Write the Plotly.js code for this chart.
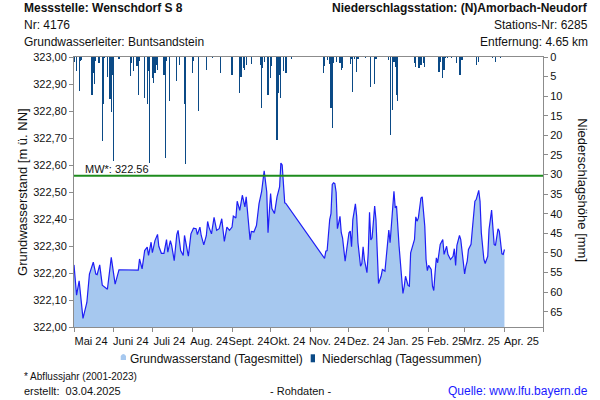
<!DOCTYPE html>
<html>
<head>
<meta charset="utf-8">
<script src="https://cdn.plot.ly/plotly-3.0.1.min.js"></script>
<style>html,body{margin:0;padding:0;background:#fff}#chart{width:600px;height:400px}</style>
</head>
<body>
<div id="chart"></div>
<script>
const gwDates = ["2024-05-01","2024-05-03","2024-05-05","2024-05-08","2024-05-11","2024-05-13","2024-05-16","2024-05-18","2024-05-19","2024-05-21","2024-05-23","2024-05-25","2024-05-27","2024-05-30","2024-06-02","2024-06-05","2024-06-20","2024-06-21","2024-06-23","2024-06-25","2024-06-27","2024-06-28","2024-06-30","2024-07-01","2024-07-03","2024-07-05","2024-07-06","2024-07-08","2024-07-10","2024-07-12","2024-07-13","2024-07-15","2024-07-16","2024-07-18","2024-07-20","2024-07-21","2024-07-23","2024-07-25","2024-07-26","2024-07-29","2024-07-31","2024-08-02","2024-08-04","2024-08-05","2024-08-07","2024-08-08","2024-08-10","2024-08-12","2024-08-13","2024-08-14","2024-08-16","2024-08-18","2024-08-20","2024-08-22","2024-08-24","2024-08-26","2024-08-28","2024-08-30","2024-09-01","2024-09-02","2024-09-04","2024-09-05","2024-09-07","2024-09-09","2024-09-11","2024-09-12","2024-09-15","2024-09-16","2024-09-18","2024-09-20","2024-09-22","2024-09-24","2024-09-26","2024-09-28","2024-09-29","2024-09-30","2024-10-01","2024-10-02","2024-10-04","2024-10-06","2024-10-08","2024-10-09","2024-10-10","2024-10-12","2024-10-13","2024-11-12","2024-11-13","2024-11-14","2024-11-16","2024-11-17","2024-11-18","2024-11-19","2024-11-20","2024-11-21","2024-11-22","2024-11-23","2024-11-24","2024-11-25","2024-11-26","2024-11-28","2024-11-29","2024-12-01","2024-12-02","2024-12-03","2024-12-04","2024-12-06","2024-12-07","2024-12-08","2024-12-10","2024-12-11","2024-12-12","2024-12-13","2024-12-15","2024-12-16","2024-12-17","2024-12-18","2024-12-19","2024-12-21","2024-12-22","2024-12-23","2024-12-24","2024-12-26","2024-12-27","2024-12-29","2024-12-30","2025-01-01","2025-01-02","2025-01-04","2025-01-05","2025-01-06","2025-01-07","2025-01-09","2025-01-11","2025-01-12","2025-01-13","2025-01-14","2025-01-16","2025-01-17","2025-01-18","2025-01-20","2025-01-21","2025-01-22","2025-01-23","2025-01-24","2025-01-26","2025-01-27","2025-01-29","2025-01-30","2025-01-31","2025-02-01","2025-02-03","2025-02-04","2025-02-05","2025-02-06","2025-02-07","2025-02-08","2025-02-09","2025-02-10","2025-02-12","2025-02-13","2025-02-15","2025-02-16","2025-02-18","2025-02-20","2025-02-21","2025-02-22","2025-02-23","2025-02-25","2025-02-26","2025-02-27","2025-03-01","2025-03-02","2025-03-03","2025-03-04","2025-03-06","2025-03-07","2025-03-09","2025-03-10","2025-03-12","2025-03-13","2025-03-14","2025-03-16","2025-03-17","2025-03-19","2025-03-20","2025-03-22","2025-03-23","2025-03-24","2025-03-25","2025-03-27","2025-03-28","2025-03-29","2025-03-30","2025-03-31","2025-04-01"];
const gwLevels = [322.230,322.118,322.171,322.032,322.091,322.196,322.240,322.196,322.194,322.230,322.155,322.149,322.140,322.258,322.159,322.212,322.211,322.252,322.215,322.283,322.296,322.265,322.314,322.275,322.320,322.343,322.299,322.273,322.273,322.324,322.277,322.320,322.302,322.246,322.342,322.358,322.283,322.265,322.339,322.262,322.345,322.366,322.364,322.342,322.370,322.339,322.304,322.339,322.391,322.370,322.345,322.406,322.358,322.364,322.401,322.317,322.370,322.358,322.370,322.411,322.404,322.466,322.432,322.488,322.445,322.482,322.323,322.354,322.352,322.376,322.457,322.501,322.578,322.501,322.349,322.426,322.494,322.439,322.420,322.482,322.519,322.607,322.600,322.460,322.457,322.254,322.281,322.283,322.398,322.420,322.528,322.534,322.531,322.499,322.364,322.386,322.410,322.349,322.330,322.244,322.275,322.349,322.355,322.297,322.398,322.456,322.410,322.312,322.225,322.235,322.297,322.250,322.201,322.275,322.425,322.322,322.330,322.448,322.398,322.262,322.161,322.188,322.213,322.207,322.250,322.359,322.312,322.466,322.503,322.441,322.448,322.299,322.176,322.124,322.151,322.188,322.154,322.151,322.275,322.309,322.324,322.408,322.392,322.404,322.478,322.482,322.373,322.250,322.209,322.228,322.213,322.151,322.135,322.201,322.256,322.238,322.269,322.306,322.324,322.269,322.299,322.269,322.250,322.262,322.290,322.228,322.302,322.339,322.324,322.287,322.197,322.225,322.244,322.287,322.306,322.361,322.466,322.472,322.506,322.466,322.349,322.250,322.235,322.262,322.361,322.433,322.355,322.306,322.302,322.364,322.355,322.302,322.271,322.269,322.287];

const rainDates = ["2024-05-01","2024-05-03","2024-05-05","2024-05-06","2024-05-07","2024-05-15","2024-05-16","2024-05-17","2024-05-18","2024-05-20","2024-05-21","2024-05-23","2024-05-24","2024-05-25","2024-05-27","2024-05-29","2024-05-30","2024-05-31","2024-06-01","2024-06-05","2024-06-14","2024-06-15","2024-06-16","2024-06-19","2024-06-20","2024-06-21","2024-06-25","2024-06-27","2024-06-28","2024-06-29","2024-07-01","2024-07-02","2024-07-03","2024-07-04","2024-07-05","2024-07-10","2024-07-11","2024-07-12","2024-07-14","2024-07-20","2024-07-22","2024-07-26","2024-07-27","2024-08-01","2024-08-02","2024-08-06","2024-08-12","2024-08-17","2024-08-23","2024-09-01","2024-09-07","2024-09-08","2024-09-10","2024-09-11","2024-09-12","2024-09-16","2024-09-23","2024-09-24","2024-09-25","2024-09-26","2024-09-29","2024-10-01","2024-10-02","2024-10-06","2024-10-07","2024-10-08","2024-10-09","2024-10-11","2024-10-13","2024-10-17","2024-11-11","2024-11-12","2024-11-14","2024-11-16","2024-11-17","2024-11-18","2024-11-19","2024-11-21","2024-11-24","2024-11-25","2024-11-26","2024-12-02","2024-12-03","2024-12-04","2024-12-05","2024-12-07","2024-12-08","2024-12-14","2024-12-18","2024-12-21","2024-12-22","2025-01-01","2025-01-02","2025-01-04","2025-01-05","2025-01-06","2025-01-07","2025-01-08","2025-01-21","2025-01-22","2025-01-24","2025-01-25","2025-01-26","2025-01-28","2025-01-29","2025-02-09","2025-02-10","2025-02-12","2025-02-13","2025-02-14","2025-02-16","2025-02-19","2025-02-23","2025-02-25","2025-02-26","2025-02-27","2025-03-10","2025-03-12","2025-03-23","2025-03-25","2025-03-29"];
const rainMM = [1.3,3.6,8.7,1.1,0.7,9.8,4.1,7.0,1.1,1.5,1.5,21.4,11.9,0.3,5.2,10.8,14.0,4.5,26.5,0.4,4.9,1.5,3.6,2.4,9.8,1.1,10.4,12.1,3.6,27.1,5.3,6.6,4.1,2.0,3.2,4.5,25.7,1.1,11.1,6.2,2.0,11.9,27.4,4.1,1.1,13.8,3.4,0.3,4.1,4.7,9.2,5.1,2.8,3.4,2.0,1.7,2.0,13.1,2.8,1.4,9.6,5.3,2.4,21.3,9.2,4.5,10.4,3.6,4.2,0.4,4.2,2.3,0.8,1.9,13.0,18.0,1.6,1.2,1.6,3.3,2.7,1.9,0.5,9.0,0.5,3.9,0.5,0.3,7.7,6.9,0.5,0.8,19.8,13.5,1.2,2.5,9.7,11.2,1.6,2.5,2.9,2.9,2.0,1.6,2.6,3.8,1.2,5.4,3.3,0.3,0.3,0.3,1.6,4.6,4.6,0.8,2.0,1.2,0.3,1.4,0.2];

const monthTicks = ["2024-05-01","2024-06-01","2024-07-01","2024-08-01","2024-09-01","2024-10-01","2024-11-01","2024-12-01","2025-01-01","2025-02-01","2025-03-01","2025-04-01","2025-05-01"];
const monthLabels = ["Mai 24","Juni 24","Juli 24","Aug. 24","Sept. 24","Okt. 24","Nov. 24","Dez. 24","Jan. 25","Feb. 25","Mrz. 25","Apr. 25",""];
const levelTicks = [322.0,322.1,322.2,322.3,322.4,322.5,322.6,322.7,322.8,322.9,323.0];
const rainTicks = [0,5,10,15,20,25,30,35,40,45,50,55,60,65];
const meanLevel = 322.56;
const seriesNames = ["Grundwasserstand (Tagesmittel)", "Niederschlag (Tagessummen)"];

const FONT = "Liberation Sans, Arial, sans-serif";
const gray = "#8c8c8c";
const areaFill = "#a6c8ef";
const barColor = "#0b4a86";

const traces = [
  {
    type: "scatter", mode: "lines", x: gwDates, y: gwLevels,
    name: seriesNames[0], showlegend: false,
    fill: "tozeroy", fillcolor: areaFill,
    line: {color: "#1f1ff5", width: 1.2},
    xaxis: "x", yaxis: "y", hoverinfo: "skip"
  },
  {
    type: "bar", x: rainDates, y: rainMM,
    name: seriesNames[1], showlegend: false,
    marker: {color: barColor, line: {width: 0}},
    width: 86400000 * 0.9,
    xaxis: "x", yaxis: "y2", hoverinfo: "skip"
  }
];

const layout = {
  width: 600, height: 400,
  margin: {l: 74, r: 57, t: 57, b: 73},
  paper_bgcolor: "#fff", plot_bgcolor: "#fff",
  font: {family: FONT, size: 11, color: "#111"},
  separators: ",.",
  showlegend: false,
  bargap: 0,
  xaxis: {
    type: "date", range: ["2024-05-01", "2025-05-01"],
    tickvals: monthTicks, ticktext: monthLabels,
    tickangle: 0, automargin: false,
    ticks: "outside", ticklen: 4, tickcolor: gray,
    ticklabelshift: 17,
    showline: true, linecolor: gray, linewidth: 1, mirror: true,
    showgrid: false, zeroline: false,
    tickfont: {size: 11, family: FONT, color: "#111"}
  },
  yaxis: {
    range: [322, 323], tickvals: levelTicks, tickformat: ".2f", automargin: false,
    ticks: "outside", ticklen: 4, tickcolor: gray,
    showline: true, linecolor: gray, linewidth: 1,
    showgrid: false, zeroline: false,
    tickfont: {size: 11, family: FONT, color: "#111"}
  },
  yaxis2: {
    overlaying: "y", side: "right", automargin: false,
    range: [68.9, 0], tickvals: rainTicks,
    ticks: "outside", ticklen: 4, tickcolor: gray,
    showline: true, linecolor: gray, linewidth: 1,
    showgrid: false, zeroline: false,
    tickfont: {size: 11, family: FONT, color: "#111"}
  },
  shapes: [
    {type: "line", xref: "paper", x0: 0, x1: 1, yref: "y", y0: meanLevel, y1: meanLevel,
     line: {color: "#1e8c1e", width: 2}},
    {type: "path", xref: "paper", yref: "paper",
     path: "M 0.0996,-0.1222 L 0.0996,-0.1074 Q 0.10525,-0.0920 0.1109,-0.1074 L 0.1109,-0.1222 Z",
     fillcolor: areaFill, line: {width: 0}},
    {type: "rect", xref: "paper", yref: "paper", x0: 0.5047, x1: 0.5139, y0: -0.1307, y1: -0.1011,
     fillcolor: barColor, line: {width: 0}}
  ],
  annotations: [
    {xref: "paper", yref: "paper", x: 0.1158, y: -0.1185, xanchor: "left", yanchor: "middle",
     text: seriesNames[0], showarrow: false, font: {size: 12, family: FONT, color: "#111"}},
    {xref: "paper", yref: "paper", x: 0.5245, y: -0.1185, xanchor: "left", yanchor: "middle",
     text: seriesNames[1], showarrow: false, font: {size: 12, family: FONT, color: "#111"}},
    {xref: "paper", yref: "y", x: 0.019, y: meanLevel, xanchor: "left", yanchor: "bottom",
     text: "MW*: 322.56", showarrow: false, font: {size: 11, family: FONT, color: "#111"}, yshift: -1},
    {xref: "paper", yref: "paper", x: -0.1109, y: 1.1815, xanchor: "left", yanchor: "middle",
     text: "<b>Messstelle: Wenschdorf S 8</b>", showarrow: false, font: {size: 12, family: FONT, color: "#111"}},
    {xref: "paper", yref: "paper", x: -0.1109, y: 1.1185, xanchor: "left", yanchor: "middle",
     text: "Nr: 4176", showarrow: false, font: {size: 12, family: FONT, color: "#111"}},
    {xref: "paper", yref: "paper", x: -0.1109, y: 1.0556, xanchor: "left", yanchor: "middle",
     text: "Grundwasserleiter: Buntsandstein", showarrow: false, font: {size: 12, family: FONT, color: "#111"}},
    {xref: "paper", yref: "paper", x: 1.100, y: 1.1815, xanchor: "right", yanchor: "middle",
     text: "<b>Niederschlagsstation: (N)Amorbach-Neudorf</b>", showarrow: false, font: {size: 12, family: FONT, color: "#111"}},
    {xref: "paper", yref: "paper", x: 1.100, y: 1.1185, xanchor: "right", yanchor: "middle",
     text: "Stations-Nr: 6285", showarrow: false, font: {size: 12, family: FONT, color: "#111"}},
    {xref: "paper", yref: "paper", x: 1.100, y: 1.0556, xanchor: "right", yanchor: "middle",
     text: "Entfernung: 4.65 km", showarrow: false, font: {size: 12, family: FONT, color: "#111"}},
    {xref: "paper", yref: "paper", x: -0.111, y: 0.5, xanchor: "center", yanchor: "middle", textangle: -90,
     text: "Grundwasserstand [m ü. NN]", showarrow: false, font: {size: 13, family: FONT, color: "#111"}},
    {xref: "paper", yref: "paper", x: 1.085, y: 0.507, xanchor: "center", yanchor: "middle", textangle: 90,
     text: "Niederschlagshöhe [mm]", showarrow: false, font: {size: 13, family: FONT, color: "#111"}},
    {xref: "paper", yref: "paper", x: -0.1109, y: -0.1815, xanchor: "left", yanchor: "middle",
     text: "* Abflussjahr (2001-2023)", showarrow: false, font: {size: 10, family: FONT, color: "#111"}},
    {xref: "paper", yref: "paper", x: -0.1109, y: -0.237, xanchor: "left", yanchor: "middle",
     text: "erstellt:  03.04.2025", showarrow: false, font: {size: 11, family: FONT, color: "#111"}},
    {xref: "paper", yref: "paper", x: 0.482, y: -0.237, xanchor: "center", yanchor: "middle",
     text: "- Rohdaten -", showarrow: false, font: {size: 11, family: FONT, color: "#111"}},
    {xref: "paper", yref: "paper", x: 1.100, y: -0.237, xanchor: "right", yanchor: "middle",
     text: "Quelle: www.lfu.bayern.de", showarrow: false, font: {size: 12, family: FONT, color: "#1a1aff"}}
  ]
};

Plotly.newPlot("chart", traces, layout, {staticPlot: true, displayModeBar: false});
</script>
</body>
</html>
